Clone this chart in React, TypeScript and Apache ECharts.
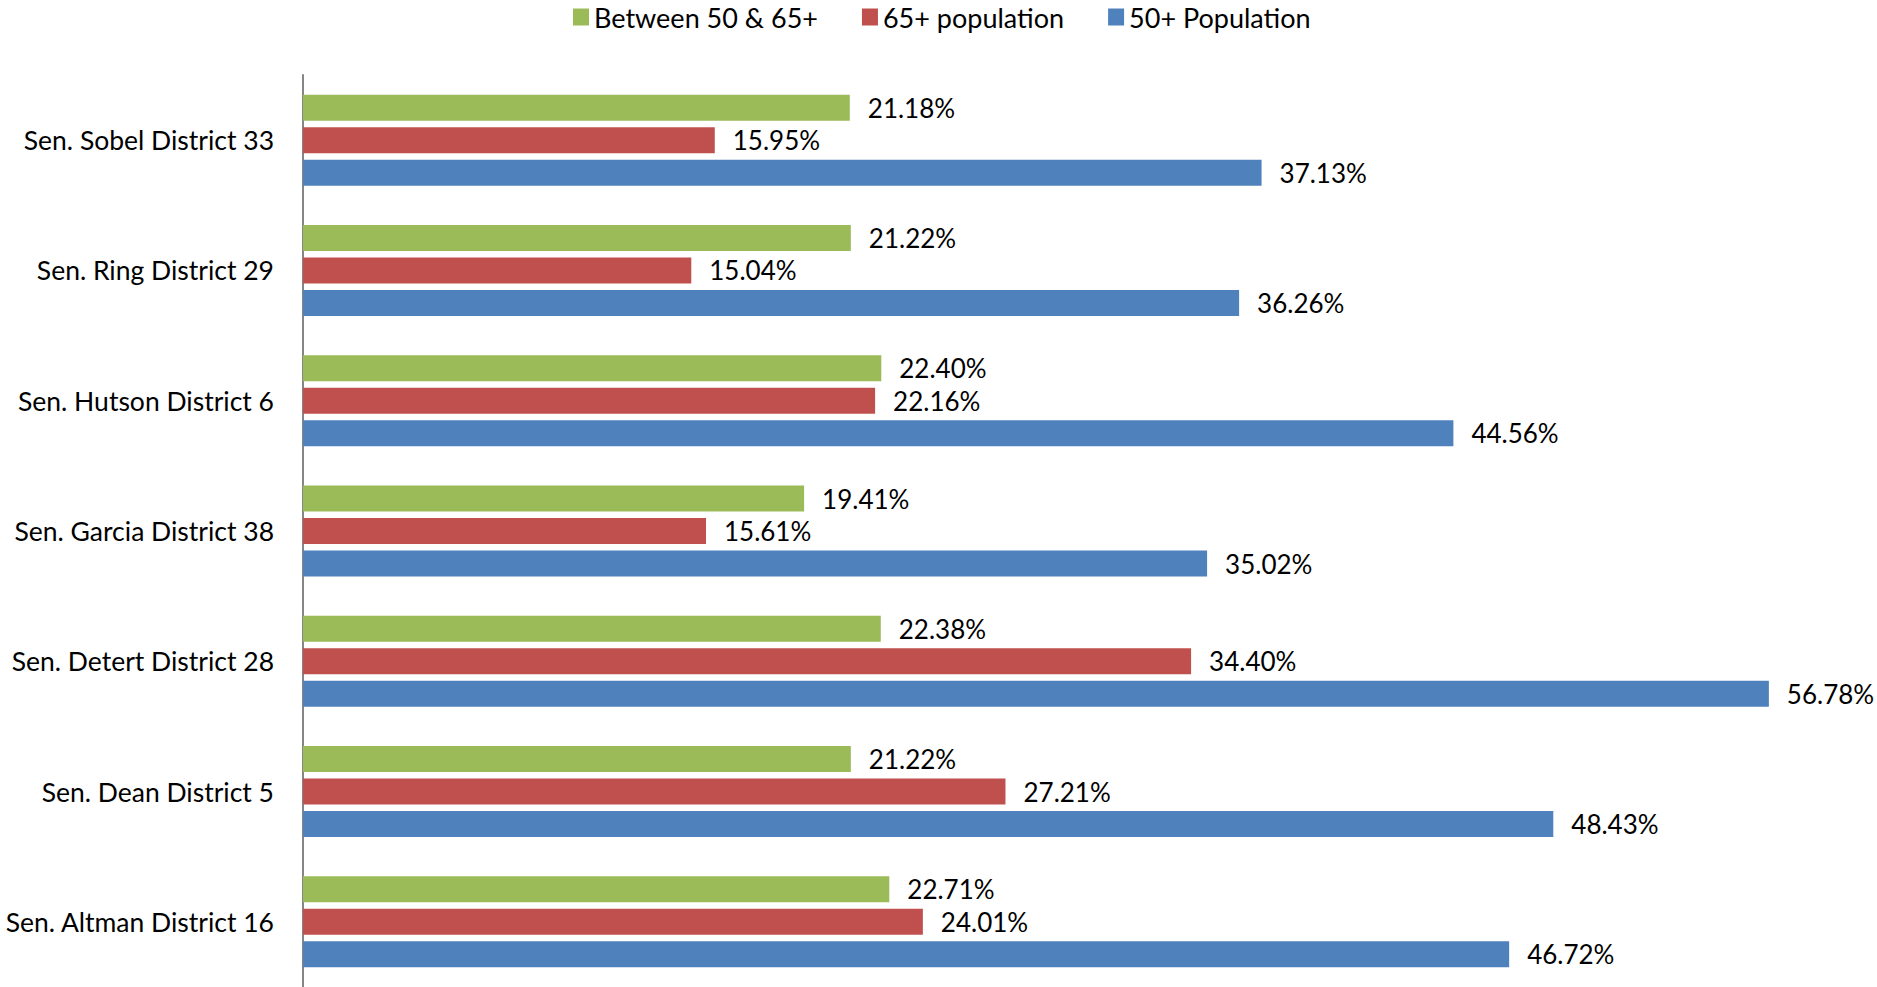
import React, { useEffect, useRef } from "react";
import * as echarts from "echarts";

const categories = [
  "Sen. Sobel District 33",
  "Sen. Ring District 29",
  "Sen. Hutson District 6",
  "Sen. Garcia District 38",
  "Sen. Detert District 28",
  "Sen. Dean District 5",
  "Sen. Altman District 16",
];
const between50and65 = [21.18, 21.22, 22.4, 19.41, 22.38, 21.22, 22.71];
const pop65plus = [15.95, 15.04, 22.16, 15.61, 34.4, 27.21, 24.01];
const pop50plus = [37.13, 36.26, 44.56, 35.02, 56.78, 48.43, 46.72];
const seriesNames = ["Between 50 & 65+", "65+ population", "50+ Population"];
const seriesColors = ["#9BBB59", "#C0504D", "#4F81BD"];

const FONT = "Lato, 'Liberation Sans', sans-serif";

export default function App() {
  const ref = useRef<HTMLDivElement>(null);
  useEffect(() => {
    if (!ref.current) return;
    const chart = echarts.init(ref.current, undefined, { renderer: "svg" });
    const values = [between50and65, pop65plus, pop50plus];
    chart.setOption({
      animation: false,
      textStyle: { fontFamily: FONT },
      legend: {
        data: seriesNames,
        top: 1,
        left: 573,
        padding: 0,
        itemWidth: 16,
        itemHeight: 17,
        itemGap: 44,
        icon: "rect",
        textStyle: { fontSize: 27, color: "#000", fontFamily: FONT, lineHeight: 32 },
      },
      grid: {
        left: 303,
        right: 25,
        top: 75,
        bottom: 0,
        containLabel: false,
        outerBoundsMode: "none",
      },
      xAxis: {
        type: "value",
        min: 0,
        max: 60,
        show: false,
        splitLine: { show: false },
      },
      yAxis: {
        type: "category",
        data: categories,
        inverse: true,
        axisLine: { show: true, lineStyle: { color: "#868686", width: 2 } },
        axisTick: { show: false },
        axisLabel: { fontSize: 26.5, color: "#000", margin: 29, fontFamily: FONT },
      },
      series: seriesNames.map((name, i) => ({
        name,
        type: "bar",
        data: values[i],
        barWidth: 26,
        barGap: "25%",
        itemStyle: { color: seriesColors[i] },
        label: {
          show: true,
          position: "right",
          distance: 18,
          fontSize: 26,
          color: "#000",
          fontFamily: FONT,
          formatter: (p: any) => `${Number(p.value).toFixed(2)}%`,
        },
      })),
    });
    return () => chart.dispose();
  }, []);
  return (
    <div
      ref={ref}
      style={{ position: "absolute", left: 0, top: 0, width: 1877, height: 987 }}
    />
  );
}
